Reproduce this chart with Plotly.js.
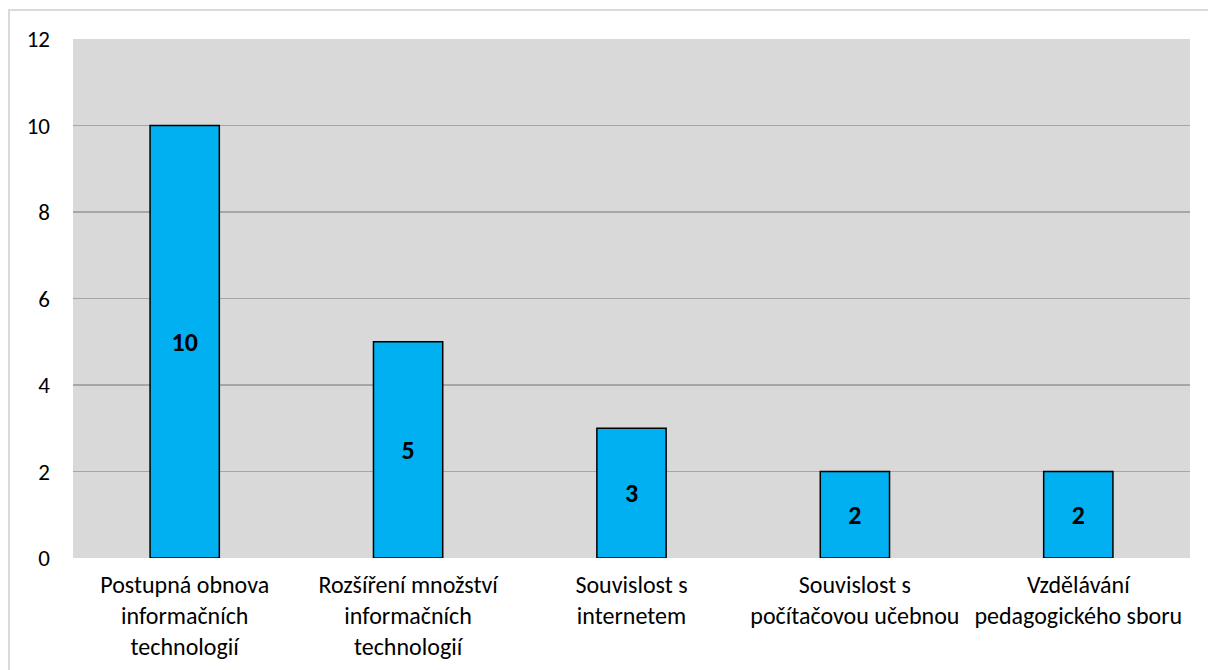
<!DOCTYPE html>
<html>
<head>
<meta charset="utf-8">
<script src="https://cdn.plot.ly/plotly-3.0.1.min.js"></script>
<style>
html,body{margin:0;padding:0;background:#fff;overflow:hidden;}
#frame{position:absolute;left:8px;top:9px;width:1300px;height:800px;border-left:2px solid #d9d9d9;border-top:2px solid #d9d9d9;box-sizing:border-box;pointer-events:none;z-index:5;}
#chart{position:absolute;left:0;top:0;width:1208px;height:670px;}
</style>
</head>
<body>
<div id="chart"></div>
<div id="frame"></div>
<script>
const categories = [
  "Postupná obnova<br>informačních<br>technologií",
  "Rozšíření množství<br>informačních<br>technologií",
  "Souvislost s<br>internetem",
  "Souvislost s<br>počítačovou učebnou",
  "Vzdělávání<br>pedagogického sboru"
];
const values = [10, 5, 3, 2, 2];
const yTicks = [0, 2, 4, 6, 8, 10, 12];

const fontFam = "Carlito, Calibri, 'Open Sans', 'Liberation Sans', sans-serif";

const trace = {
  type: 'bar',
  x: categories,
  y: values,
  width: 0.31,
  marker: {color: '#00b0f0', line: {color: '#000000', width: 1.5}},
  text: values.map(String),
  textposition: 'inside',
  insidetextanchor: 'middle',
  constraintext: 'none',
  textangle: 0,
  textfont: {family: fontFam, size: 26, color: '#000000', weight: 'bold'},
  hoverinfo: 'none'
};

const layout = {
  width: 1208, height: 670,
  margin: {l: 73, r: 18, t: 39, b: 112},
  paper_bgcolor: '#ffffff',
  plot_bgcolor: '#d9d9d9',
  showlegend: false,
  bargap: 0.69,
  font: {family: fontFam, size: 23, color: '#000000'},
  xaxis: {
    type: 'category',
    showgrid: false,
    showline: false,
    zeroline: false,
    ticks: '',
    ticklabelstandoff: 10,
    tickfont: {family: fontFam, size: 24, color: '#000000'},
    automargin: false
  },
  yaxis: {
    range: [0, 12],
    tickvals: yTicks,
    ticktext: yTicks.map(String),
    showgrid: true,
    gridcolor: '#a6a6a6',
    gridwidth: 1.5,
    zeroline: false,
    showline: false,
    ticks: '',
    ticklabelstandoff: 22,
    tickfont: {family: fontFam, size: 23, color: '#000000'},
    automargin: false
  }
};

Plotly.newPlot('chart', [trace], layout, {displayModeBar: false, staticPlot: true});
</script>
</body>
</html>
